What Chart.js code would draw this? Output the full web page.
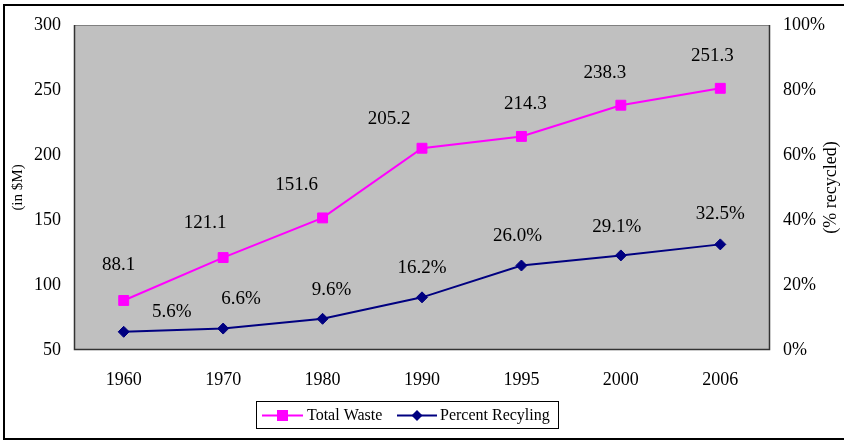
<!DOCTYPE html>
<html>
<head>
<meta charset="utf-8">
<script src="https://cdn.jsdelivr.net/npm/chart.js@4.4.0/dist/chart.umd.min.js"></script>
<style>
  html, body { margin: 0; padding: 0; background: #fff; }
  #wrap { width: 844px; height: 441px; position: relative; }
</style>
</head>
<body>
<div id="wrap"><canvas id="c" width="844" height="441"></canvas></div>
<script>
const categories = ['1960', '1970', '1980', '1990', '1995', '2000', '2006'];
const totalWaste = [88.1, 121.1, 151.6, 205.2, 214.3, 238.3, 251.3];
const percentRecycling = [5.6, 6.6, 9.6, 16.2, 26.0, 29.1, 32.5];
const leftTicks = [50, 100, 150, 200, 250, 300];
const rightTicks = [0, 20, 40, 60, 80, 100];
const seriesNames = ['Total Waste', 'Percent Recyling'];
const axisTitles = ['(in $M)', '(% recycled)'];

// label placement offsets (styling only, in pixels relative to each point)
const labelOffsets = [
  [[-5,-35],[-18,-35],[-26,-33],[-33,-29],[4,-32],[-16,-32],[-8,-32]],
  [[48,-20],[18,-30],[9,-29],[0,-29],[-4,-29],[-4,-28],[0,-30]]
];

const SERIF = '"Liberation Serif", "Times New Roman", serif';

const framePlugin = {
  id: 'frame',
  beforeDraw(chart) {
    const {ctx, chartArea: a} = chart;
    ctx.save();
    ctx.fillStyle = '#fff';
    ctx.fillRect(0, 0, chart.width, chart.height);
    // outer border
    ctx.strokeStyle = '#000';
    ctx.lineWidth = 2;
    ctx.strokeRect(4, 5, chart.width + 10, 434);
    // plot area
    ctx.fillStyle = '#C0C0C0';
    ctx.fillRect(a.left, a.top, a.right - a.left, a.bottom - a.top);
    ctx.lineWidth = 1;
    ctx.strokeStyle = '#808080';
    ctx.beginPath();
    ctx.moveTo(a.left, a.top + 0.5); ctx.lineTo(a.right, a.top + 0.5);
    ctx.stroke();
    ctx.strokeStyle = '#333';
    ctx.lineWidth = 1.5;
    ctx.beginPath();
    ctx.moveTo(a.left + 0.5, a.top); ctx.lineTo(a.left + 0.5, a.bottom - 0.5);
    ctx.lineTo(a.right - 0.5, a.bottom - 0.5); ctx.lineTo(a.right - 0.5, a.top);
    ctx.stroke();
    // axis titles
    ctx.fillStyle = '#000';
    ctx.textAlign = 'center';
    ctx.textBaseline = 'middle';
    const cy = (a.top + a.bottom) / 2;
    ctx.save();
    ctx.font = '15px ' + SERIF;
    ctx.translate(18, cy);
    ctx.rotate(-Math.PI / 2);
    ctx.fillText(axisTitles[0], 0, 0);
    ctx.restore();
    ctx.save();
    ctx.font = '18px ' + SERIF;
    ctx.translate(831, cy);
    ctx.rotate(-Math.PI / 2);
    ctx.fillText(axisTitles[1], 0, 0);
    ctx.restore();
    ctx.restore();
  },
  afterDatasetsDraw(chart) {
    const {ctx} = chart;
    ctx.save();
    ctx.fillStyle = '#000';
    ctx.font = '19px ' + SERIF;
    ctx.textAlign = 'center';
    ctx.textBaseline = 'middle';
    chart.data.datasets.forEach((ds, di) => {
      const meta = chart.getDatasetMeta(di);
      meta.data.forEach((pt, i) => {
        const v = ds.data[i];
        const txt = di === 0 ? v.toFixed(1) : v.toFixed(1) + '%';
        const off = labelOffsets[di][i];
        ctx.fillText(txt, pt.x + off[0], pt.y + off[1]);
      });
    });
    // legend
    const lx = 256, ly = 401, lw = 302, lh = 27;
    ctx.fillStyle = '#fff';
    ctx.fillRect(lx, ly, lw, lh);
    ctx.strokeStyle = '#000';
    ctx.lineWidth = 1;
    ctx.strokeRect(lx + 0.5, ly + 0.5, lw, lh);
    ctx.font = '16px ' + SERIF;
    ctx.textAlign = 'left';
    const cyL = ly + lh / 2 + 1;
    const entries = [
      {x0: 262, x1: 303, tx: 307},
      {x0: 397, x1: 437, tx: 440}
    ];
    chart.data.datasets.forEach((ds, di) => {
      const e = entries[di];
      ctx.strokeStyle = ds.borderColor;
      ctx.lineWidth = 2;
      ctx.beginPath();
      ctx.moveTo(e.x0, cyL); ctx.lineTo(e.x1, cyL);
      ctx.stroke();
      const mx = (e.x0 + e.x1) / 2;
      ctx.fillStyle = ds.pointBackgroundColor;
      if (di === 0) {
        ctx.fillRect(mx - 5.5, cyL - 5.5, 11, 11);
      } else {
        ctx.beginPath();
        ctx.moveTo(mx, cyL - 5.5); ctx.lineTo(mx + 5.5, cyL);
        ctx.lineTo(mx, cyL + 5.5); ctx.lineTo(mx - 5.5, cyL);
        ctx.closePath(); ctx.fill();
      }
      ctx.fillStyle = '#000';
      ctx.textBaseline = 'middle';
      ctx.fillText(ds.label, e.tx, cyL);
    });
    ctx.restore();
  }
};

new Chart(document.getElementById('c'), {
  type: 'line',
  data: {
    labels: categories,
    datasets: [
      {
        label: seriesNames[0],
        data: totalWaste,
        yAxisID: 'y',
        borderColor: '#FF00FF',
        backgroundColor: '#FF00FF',
        pointBackgroundColor: '#FF00FF',
        pointBorderColor: '#FF00FF',
        borderWidth: 2,
        pointStyle: 'rect',
        pointRadius: 7,
        pointBorderWidth: 1,
        tension: 0
      },
      {
        label: seriesNames[1],
        data: percentRecycling,
        yAxisID: 'y1',
        borderColor: '#000080',
        backgroundColor: '#000080',
        pointBackgroundColor: '#000080',
        pointBorderColor: '#000080',
        borderWidth: 2,
        pointStyle: 'rectRot',
        pointRadius: 5.5,
        pointBorderWidth: 1,
        tension: 0
      }
    ]
  },
  options: {
    responsive: false,
    animation: false,
    devicePixelRatio: 1,
    layout: { padding: { top: 25, left: 0, right: 0, bottom: 0 } },
    plugins: { legend: { display: false }, tooltip: { enabled: false } },
    scales: {
      x: {
        offset: true,
        grid: { display: false, drawTicks: false },
        border: { display: false },
        ticks: { color: '#000', font: { family: SERIF, size: 18 }, padding: 19, maxRotation: 0 },
        afterFit(s) { s.height = 91; }
      },
      y: {
        position: 'left',
        min: leftTicks[0],
        max: leftTicks[leftTicks.length - 1],
        grid: { display: false, drawTicks: false },
        border: { display: false },
        afterBuildTicks(s) { s.ticks = leftTicks.map(v => ({ value: v })); },
        ticks: { color: '#000', font: { family: SERIF, size: 18 }, padding: 13 },
        afterFit(s) { s.width = 74; }
      },
      y1: {
        position: 'right',
        min: rightTicks[0],
        max: rightTicks[rightTicks.length - 1],
        grid: { display: false, drawTicks: false },
        border: { display: false },
        afterBuildTicks(s) { s.ticks = rightTicks.map(v => ({ value: v })); },
        ticks: { color: '#000', font: { family: SERIF, size: 18 }, padding: 13,
                 callback: v => v + '%' },
        afterFit(s) { s.width = 74; }
      }
    }
  },
  plugins: [framePlugin]
});
</script>
</body>
</html>
